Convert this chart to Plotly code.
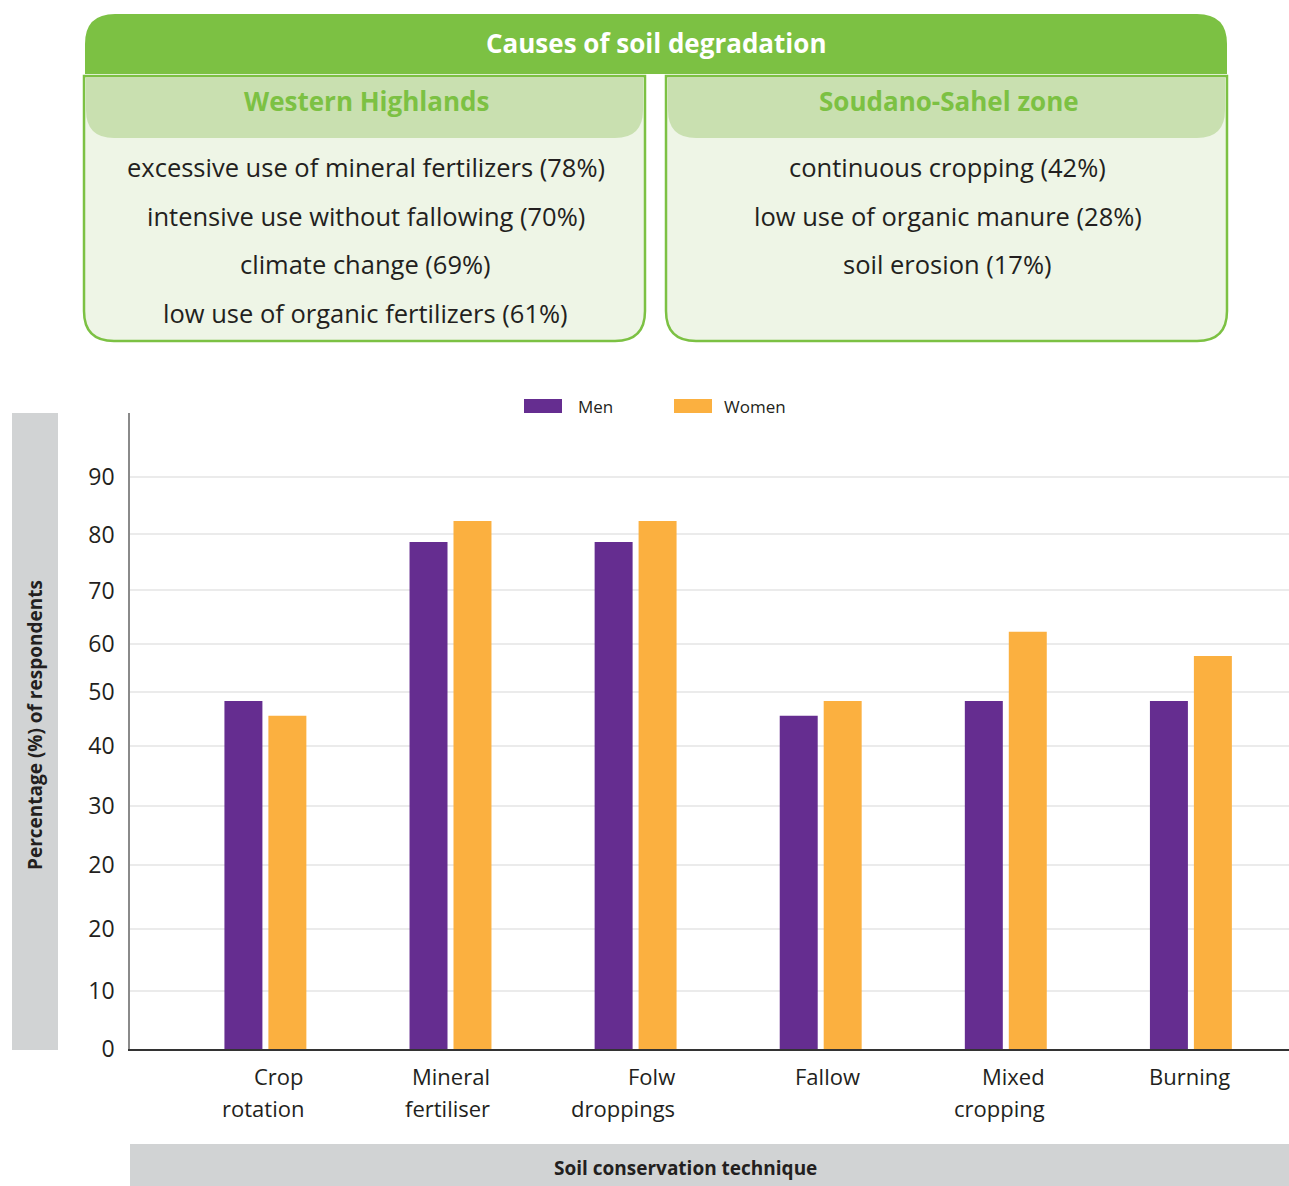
import plotly.graph_objects as go

# ---- data -------------------------------------------------------------
techniques = ["Crop\nrotation", "Mineral\nfertiliser", "Folw\ndroppings",
              "Fallow", "Mixed\ncropping", "Burning"]
# bar heights in axis units (axis runs 0..100 from baseline to top of plot)
men = [54.7, 79.7, 79.7, 52.4, 54.7, 54.7]
women = [52.4, 83.0, 83.0, 54.7, 65.6, 61.8]

# labelled gridlines of the percentage axis (positions in axis units)
tick_pos = [0, 9.1, 18.8, 28.9, 38.2, 47.6, 56.1, 63.7, 72.1, 80.9, 89.9]
tick_text = ["0", "10", "20", "20", "30", "40", "50", "60", "70", "80", "90"]

panel_title = "Causes of soil degradation"
zones = ["Western Highlands", "Soudano-Sahel zone"]
causes = [
    ["excessive use of mineral fertilizers (78%)",
     "intensive use without fallowing (70%)",
     "climate change (69%)",
     "low use of organic fertilizers (61%)"],
    ["continuous cropping (42%)",
     "low use of organic manure (28%)",
     "soil erosion (17%)"],
]

# ---- styling ----------------------------------------------------------
W, H = 1289, 1186
FONT = "Open Sans"
DARK = "#231f20"
PURPLE = "#652d90"
ORANGE = "#fbb040"
GREEN = "#7cc143"
TAB = "#c9e0b0"
BOX = "#eef5e6"
GREY = "#d1d3d4"


def X(px):
    return px / W


def Y(py):
    return 1 - py / H


def rounded(x0, y0, x1, y1, tl=0, tr=0, br=0, bl=0):
    """SVG path (paper coords) for a rectangle with rounded corners."""
    p = lambda x, y: f"{X(x):.5f},{Y(y):.5f}"
    return (f"M{p(x0 + tl, y0)} L{p(x1 - tr, y0)} Q{p(x1, y0)} {p(x1, y0 + tr)} "
            f"L{p(x1, y1 - br)} Q{p(x1, y1)} {p(x1 - br, y1)} "
            f"L{p(x0 + bl, y1)} Q{p(x0, y1)} {p(x0, y1 - bl)} "
            f"L{p(x0, y0 + tl)} Q{p(x0, y0)} {p(x0 + tl, y0)} Z")


def label(x, y, text, size, color=DARK, **kw):
    d = dict(xref="paper", yref="paper", x=X(x), y=Y(y), text=text,
             showarrow=False, xanchor="center", yanchor="middle",
             font=dict(family=FONT, size=size, color=color))
    d.update(kw)
    return d


fig = go.Figure()
fig.add_trace(go.Bar(name="Men", x=techniques, y=men, marker_color=PURPLE,
                     marker_line_width=0))
fig.add_trace(go.Bar(name="Women", x=techniques, y=women, marker_color=ORANGE,
                     marker_line_width=0))

shapes = []
annotations = []

# ---- top panel: causes of soil degradation -----------------------------
shapes.append(dict(type="path", xref="paper", yref="paper", layer="below",
                   path=rounded(85, 14, 1227, 74, tl=30, tr=30),
                   fillcolor=GREEN, line_width=0))
annotations.append(label(656, 43, f"<b>{panel_title}</b>", 26, "white"))

box_x = [(84, 645), (666, 1227)]
for (bx0, bx1), zone, lines in zip(box_x, zones, causes):
    shapes.append(dict(type="path", xref="paper", yref="paper", layer="below",
                       path=rounded(bx0, 76, bx1, 341, br=30, bl=30),
                       fillcolor=BOX, line=dict(color=GREEN, width=2.5)))
    shapes.append(dict(type="path", xref="paper", yref="paper", layer="below",
                       path=rounded(bx0 + 2, 77, bx1 - 2, 138, br=28, bl=28),
                       fillcolor=TAB, line_width=0))
    cx = (bx0 + bx1) / 2
    annotations.append(label(cx + 2, 101, f"<b>{zone}</b>", 26, GREEN))
    for i, line in enumerate(lines):
        annotations.append(label(cx + 1, 167 + i * 48.7, line, 25.5))

# ---- axis title boxes --------------------------------------------------
shapes.append(dict(type="rect", xref="paper", yref="paper", layer="below",
                   x0=X(12), x1=X(58), y0=Y(413), y1=Y(1050),
                   fillcolor=GREY, line_width=0))
shapes.append(dict(type="rect", xref="paper", yref="paper", layer="below",
                   x0=X(130), x1=X(1289), y0=Y(1144), y1=Y(1186),
                   fillcolor=GREY, line_width=0))
annotations.append(label(35, 725, "<b>Percentage (%) of respondents</b>", 19,
                         textangle=-90))
annotations.append(label(685, 1168, "<b>Soil conservation technique</b>", 19))

# ---- legend ------------------------------------------------------------
for (sx, tx), name, col in zip([(524, 576), (674, 722)], ["Men", "Women"],
                               [PURPLE, ORANGE]):
    shapes.append(dict(type="rect", xref="paper", yref="paper",
                       x0=X(sx), x1=X(sx + 38), y0=Y(413), y1=Y(399),
                       fillcolor=col, line_width=0))
    annotations.append(label(tx, 406, name, 17, xanchor="left"))

# ---- category labels, right-aligned under each pair of bars -------------
for cat in techniques:
    for j, line in enumerate(cat.split("\n")):
        annotations.append(dict(xref="x", yref="paper", x=cat,
                                y=Y(1076 + j * 32), yanchor="middle",
                                xanchor="right", xshift=41, text=line,
                                showarrow=False,
                                font=dict(family=FONT, size=22, color=DARK)))

fig.update_layout(
    width=W, height=H,
    margin=dict(l=0, r=0, t=0, b=0),
    paper_bgcolor="white", plot_bgcolor="white",
    showlegend=False,
    barmode="group", bargap=0.525, bargroupgap=0.136,
    shapes=shapes, annotations=annotations,
    xaxis=dict(domain=[X(130), 1.0], range=[-0.7315, 5.53],
               showticklabels=False, ticks="", showgrid=False,
               showline=True, linecolor="#333333", linewidth=1.5,
               zeroline=False, fixedrange=True, automargin=False),
    yaxis=dict(domain=[Y(1049), Y(413)], range=[0, 100],
               tickmode="array", tickvals=tick_pos, ticktext=tick_text,
               ticks="", ticklabelstandoff=9,
               tickfont=dict(family=FONT, size=23, color=DARK),
               showgrid=True, gridcolor="#ebebeb", gridwidth=1.5,
               showline=True, linecolor="#8a8a8a", linewidth=1.5,
               zeroline=False, fixedrange=True, automargin=False),
)

fig.write_html("out.html")
